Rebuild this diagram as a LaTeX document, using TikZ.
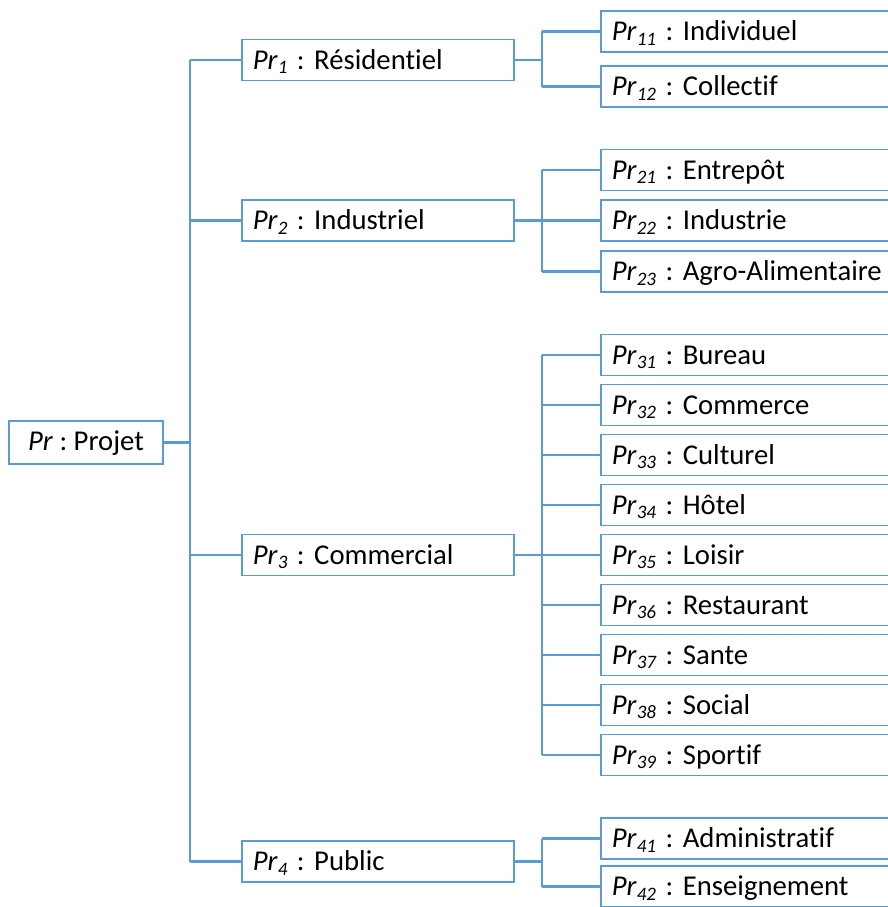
\documentclass[tikz,border=0pt]{standalone}
\usepackage{fontspec}
\setmainfont{Carlito}[Ligatures={NoCommon}]
\definecolor{lineblue}{RGB}{91,155,213}
\newcommand{\prsub}[1]{\textit{Pr}\raisebox{-4.5pt}{\fontsize{19}{20}\selectfont\itshape #1}}
\frenchspacing
\begin{document}
\begin{tikzpicture}[x=1pt,y=-1pt,
  font=\fontsize{28.7}{32}\selectfont\frenchspacing,
  box/.style={draw=lineblue, line width=1.7pt, inner ysep=0pt, inner xsep=11pt,
    text height=29.7pt, text depth=11.3pt, minimum height=41pt, anchor=west, align=left},
  lonebox/.style={box, minimum width=272pt, text width=250pt},
  ltwobox/.style={box, minimum width=320pt, text width=298pt},
  link/.style={draw=lineblue, line width=2.3pt}]
\useasboundingbox (0,0) rectangle (888,907);
\clip (0,0) rectangle (888,907);

\node[draw=lineblue, line width=1.7pt, minimum width=154pt, minimum height=43pt,
  inner sep=0pt, text height=29.7pt, text depth=13.3pt] (root) at (86,442.5) {\textit{Pr} : Projet};

\node[lonebox] (a1) at (241,60) {\prsub{1} : Résidentiel};
\node[lonebox] (a2) at (241,220.5) {\prsub{2} : Industriel};
\node[lonebox] (a3) at (241,555) {\prsub{3} : Commercial};
\node[lonebox] (a4) at (241,861.5) {\prsub{4} : Public};

\node[ltwobox] (b11) at (600,31.5) {\prsub{11} : Individuel};
\node[ltwobox] (b12) at (600,86.5) {\prsub{12} : Collectif};

\node[ltwobox] (b21) at (600,170) {\prsub{21} : Entrepôt};
\node[ltwobox] (b22) at (600,220.5) {\prsub{22} : Industrie};
\node[ltwobox] (b23) at (600,271.5) {\prsub{23} : Agro-Alimentaire};

\node[ltwobox] (b31) at (600,355) {\prsub{31} : Bureau};
\node[ltwobox] (b32) at (600,405) {\prsub{32} : Commerce};
\node[ltwobox] (b33) at (600,455) {\prsub{33} : Culturel};
\node[ltwobox] (b34) at (600,505) {\prsub{34} : Hôtel};
\node[ltwobox] (b35) at (600,555) {\prsub{35} : Loisir};
\node[ltwobox] (b36) at (600,605) {\prsub{36} : Restaurant};
\node[ltwobox] (b37) at (600,655) {\prsub{37} : Sante};
\node[ltwobox] (b38) at (600,705) {\prsub{38} : Social};
\node[ltwobox] (b39) at (600,755) {\prsub{39} : Sportif};

\node[ltwobox] (b41) at (600,838.5) {\prsub{41} : Administratif};
\node[ltwobox] (b42) at (600,886.5) {\prsub{42} : Enseignement};

% trunk
\draw[link] (root.east) -- ++(26,0) coordinate (t0);
\draw[link] (t0 |- a1.west) -- (t0 |- a4.west);
\foreach \n in {a1,a2,a3,a4} \draw[link] (t0 |- \n.west) -- (\n.west);

% group 1
\draw[link] (a1.east) -- ++(27,0) coordinate (g1);
\draw[link] (g1 |- b11.west) -- (g1 |- b12.west);
\foreach \n in {b11,b12} \draw[link] (g1 |- \n.west) -- (\n.west);

% group 2
\draw[link] (a2.east) -- ++(27,0) coordinate (g2);
\draw[link] (g2 |- b21.west) -- (g2 |- b23.west);
\foreach \n in {b21,b22,b23} \draw[link] (g2 |- \n.west) -- (\n.west);

% group 3
\draw[link] (a3.east) -- ++(27,0) coordinate (g3);
\draw[link] (g3 |- b31.west) -- (g3 |- b39.west);
\foreach \n in {b31,b32,b33,b34,b35,b36,b37,b38,b39} \draw[link] (g3 |- \n.west) -- (\n.west);

% group 4
\draw[link] (a4.east) -- ++(27,0) coordinate (g4);
\draw[link] (g4 |- b41.west) -- (g4 |- b42.west);
\foreach \n in {b41,b42} \draw[link] (g4 |- \n.west) -- (\n.west);
\end{tikzpicture}
\end{document}
